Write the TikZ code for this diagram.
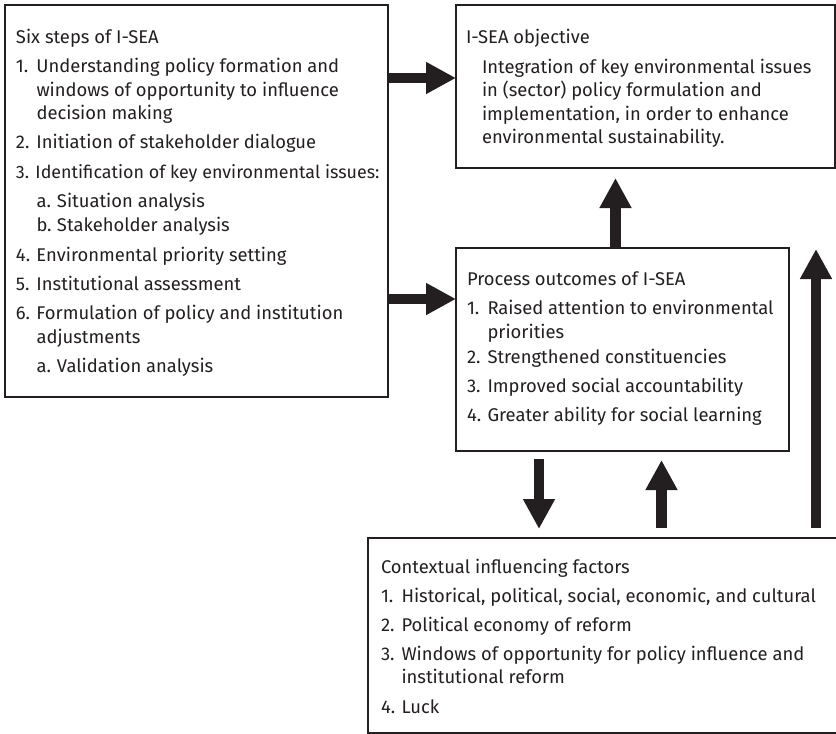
\documentclass[tikz,border=0pt]{standalone}
\usepackage{fontspec}
\setmainfont{Fira Sans}
\usetikzlibrary{arrows.meta,calc}
\definecolor{ink}{HTML}{231F20}
\newcommand{\numlbl}[1]{\makebox[20.5pt][l]{#1}}
\tikzset{
  box/.style={draw=ink, line width=1.6pt, rectangle, inner sep=0pt, outer sep=0pt, anchor=north west},
  txt/.style={anchor=base west, inner sep=0pt, outer sep=0pt, text=ink, font=\fontsize{18.4}{21}\selectfont},
  blk/.style={draw=ink, line width=10.5pt, line cap=butt, -{Triangle[length=30pt,width=30pt]}, color=ink}
}
\begin{document}
\begin{tikzpicture}[x=1pt,y=-1pt]
\useasboundingbox (0,0) rectangle (836,734);
\clip (0,0) rectangle (836,734);
% boxes
\node[box, minimum width=383pt, minimum height=392pt] (A) at (5,5) {};
\node[box, minimum width=379pt, minimum height=163pt] (B) at (456,5) {};
\node[box, minimum width=333pt, minimum height=203pt] (C) at (456,248) {};
\node[box, minimum width=490pt, minimum height=195pt] (D) at (368,538) {};
% box A text
\node[txt] (a0) at (16,43) {Six steps of I-SEA};
\node[txt] (a1) at (16,72) {\numlbl{1.}Understanding policy formation and};
\node[txt] (a1b) at (36.5,96) {windows of opportunity to influence};
\node[txt] (a1c) at (36.5,119.5) {decision making};
\node[txt] (a2) at (16,148) {\numlbl{2.}Initiation of stakeholder dialogue};
\node[txt, font=\fontsize{17.9}{21}\selectfont] (a3) at (16,178) {\makebox[19.5pt][l]{3.}Identification of key environmental issues:};
\node[txt] (a3a) at (36.5,207) {\numlbl{a.}Situation analysis};
\node[txt] (a3b) at (36.5,231) {\numlbl{b.}Stakeholder analysis};
\node[txt] (a4) at (16,261) {\numlbl{4.}Environmental priority setting};
\node[txt] (a5) at (16,290) {\numlbl{5.}Institutional assessment};
\node[txt] (a6) at (16,319) {\numlbl{6.}Formulation of policy and institution};
\node[txt] (a6b) at (36.5,343) {adjustments};
\node[txt] (a6a) at (36.5,372) {\numlbl{a.}Validation analysis};
% box B text
\node[txt] (b0) at (466,43) {I-SEA objective};
\node[txt] (b1) at (482,73) {Integration of key environmental issues};
\node[txt] (b2) at (482,96.5) {in (sector) policy formulation and};
\node[txt] (b3) at (482,120) {implementation, in order to enhance};
\node[txt] (b4) at (482,143) {environmental sustainability.};
% box C text
\node[txt] (c0) at (467,285) {Process outcomes of I-SEA};
\node[txt] (c1) at (467,314) {\numlbl{1.}Raised attention to environmental};
\node[txt] (c1b) at (487.5,338) {priorities};
\node[txt] (c2) at (467,363) {\numlbl{2.}Strengthened constituencies};
\node[txt] (c3) at (467,392) {\numlbl{3.}Improved social accountability};
\node[txt] (c4) at (467,421) {\numlbl{4.}Greater ability for social learning};
% box D text
\node[txt] (d0) at (381,573) {Contextual influencing factors};
\node[txt] (d1) at (381,602) {\numlbl{1.}Historical, political, social, economic, and cultural};
\node[txt] (d2) at (381,631) {\numlbl{2.}Political economy of reform};
\node[txt] (d3) at (381,660) {\numlbl{3.}Windows of opportunity for policy influence and};
\node[txt] (d3b) at (401.5,683) {institutional reform};
\node[txt] (d4) at (381,713) {\numlbl{4.}Luck};
% arrows
\draw[blk] (A.east |- 0,78) -- (B.west |- 0,78);
\draw[blk] (A.east |- 0,299) -- (C.west |- 0,299);
\draw[blk] (C.north -| 615.5,0) -- ($(B.south -| 615.5,0)+(0,10)$);
\draw[blk] ($(C.south -| 539,0)+(0,8)$) -- ($(D.north -| 539,0)+(0,-9)$);
\draw[blk] ($(D.north -| 661.5,0)+(0,-10)$) -- ($(C.south -| 661.5,0)+(0,9)$);
\draw[blk] ($(D.north -| 816,0)+(0,-10)$) -- ($(C.north -| 816,0)+(0,1)$);
\end{tikzpicture}
\end{document}
